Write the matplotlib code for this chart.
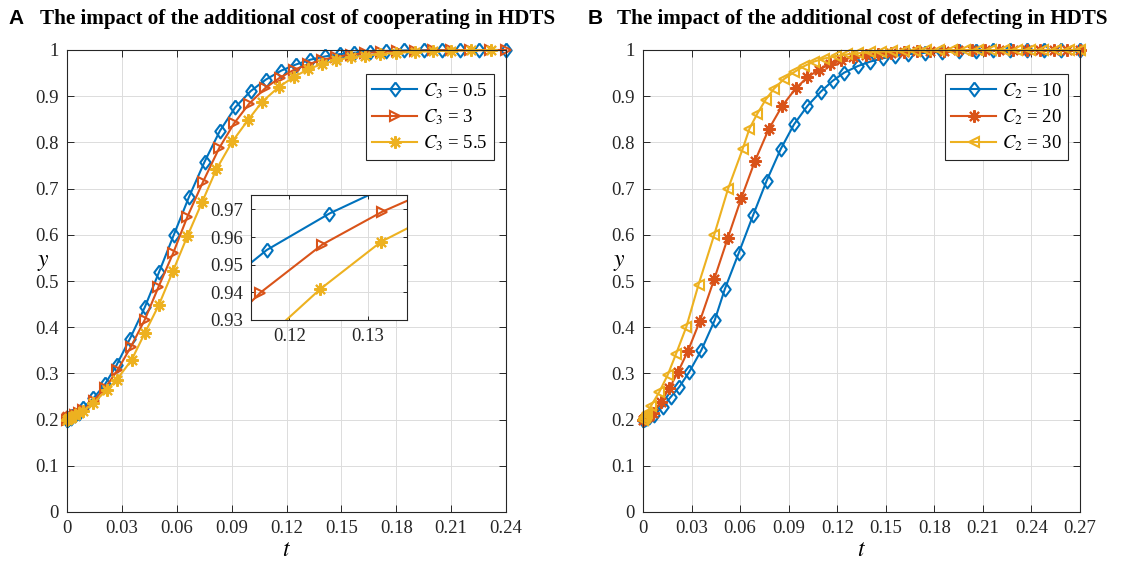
import matplotlib
matplotlib.use("Agg")
import matplotlib.pyplot as plt
import numpy as np

plt.rcParams['font.family'] = ['Liberation Serif', 'DejaVu Serif']
plt.rcParams['mathtext.fontset'] = 'stix'

BLUE = '#0072BD'
ORANGE = '#D95319'
YELLOW = '#EDB120'
INK = '#262626'

# ---- panel A: additional cost of cooperating (C3) ----
t_a1 = [0, 0.0004, 0.0008, 0.0013, 0.002, 0.003, 0.0045, 0.0065, 0.0089, 0.0144,
        0.0207, 0.0271, 0.0344, 0.0425, 0.0503, 0.0584, 0.0667, 0.0752, 0.0836, 0.092,
        0.1004, 0.1087, 0.1171, 0.1251, 0.133, 0.141, 0.149, 0.157, 0.1655, 0.1745,
        0.1845, 0.195, 0.205, 0.215, 0.2255, 0.24]
y_a1 = [0.2, 0.2009, 0.2018, 0.2029, 0.2045, 0.2068, 0.2103, 0.2152, 0.226, 0.246,
        0.276, 0.318, 0.375, 0.443, 0.519, 0.600, 0.682, 0.758, 0.825, 0.876,
        0.911, 0.936, 0.9553, 0.9685, 0.979, 0.986, 0.991, 0.994, 0.9965, 0.998,
        0.999, 0.9995, 0.9998, 0.9999, 1.0, 1.0]

t_a2 = [0, 0.0004, 0.0008, 0.0013, 0.002, 0.003, 0.0045, 0.0065, 0.009, 0.0145,
        0.0208, 0.0276, 0.035, 0.0425, 0.05, 0.058, 0.0658, 0.0744, 0.0831, 0.0913,
        0.0994, 0.1085, 0.1163, 0.1242, 0.1318, 0.1395, 0.147, 0.155, 0.163, 0.1715,
        0.1805, 0.19, 0.2, 0.21, 0.2205, 0.231, 0.24]
y_a2 = [0.2, 0.2008, 0.2016, 0.2027, 0.2042, 0.2063, 0.2096, 0.2142, 0.221, 0.241,
        0.268, 0.307, 0.358, 0.416, 0.487, 0.560, 0.639, 0.715, 0.787, 0.841,
        0.883, 0.918, 0.9399, 0.9573, 0.9691, 0.9787, 0.985, 0.990, 0.9935, 0.996,
        0.9975, 0.9985, 0.9992, 0.9996, 0.9998, 0.9999, 1.0]

t_a3 = [0, 0.0004, 0.0008, 0.0013, 0.002, 0.003, 0.0045, 0.0065, 0.0089, 0.0144,
        0.0216, 0.0271, 0.0353, 0.0425, 0.0502, 0.058, 0.0658, 0.074, 0.0817, 0.0904,
        0.0989, 0.1067, 0.116, 0.1239, 0.1317, 0.1395, 0.147, 0.155, 0.163, 0.171,
        0.18, 0.19, 0.2, 0.21, 0.221, 0.232]
y_a3 = [0.2, 0.2008, 0.2016, 0.2026, 0.204, 0.2061, 0.2092, 0.2135, 0.219, 0.235,
        0.264, 0.286, 0.329, 0.387, 0.448, 0.522, 0.597, 0.672, 0.742, 0.802,
        0.848, 0.888, 0.9207, 0.9411, 0.9583, 0.9696, 0.978, 0.984, 0.988, 0.991,
        0.994, 0.996, 0.9975, 0.9985, 0.9992, 0.9996]

# ---- panel B: additional cost of defecting (C2) ----
t_b1 = [0, 0.0004, 0.0009, 0.0015, 0.0025, 0.004, 0.007, 0.0122, 0.0174, 0.0225,
        0.0287, 0.036, 0.0443, 0.0505, 0.0592, 0.0681, 0.0764, 0.085, 0.0933, 0.1016,
        0.1099, 0.1171, 0.1243, 0.1326, 0.1405, 0.148, 0.156, 0.164, 0.1745, 0.185,
        0.1955, 0.206, 0.2165, 0.227, 0.2375, 0.248, 0.2585, 0.27]
y_b1 = [0.2, 0.2006, 0.2013, 0.2021, 0.2035, 0.2056, 0.21, 0.228, 0.25, 0.271,
        0.304, 0.350, 0.415, 0.482, 0.561, 0.643, 0.717, 0.785, 0.839, 0.879,
        0.910, 0.933, 0.951, 0.965, 0.975, 0.982, 0.987, 0.991, 0.994, 0.996,
        0.9973, 0.9983, 0.999, 0.9994, 0.9996, 0.9998, 0.9999, 1.0]

t_b2 = [0, 0.0004, 0.0009, 0.0015, 0.0025, 0.004, 0.006, 0.0112, 0.0163, 0.0215,
        0.0277, 0.0352, 0.044, 0.0523, 0.0608, 0.0692, 0.0776, 0.086, 0.0944, 0.1016,
        0.1085, 0.1155, 0.1225, 0.13, 0.1375, 0.145, 0.153, 0.161, 0.169, 0.1775,
        0.186, 0.1945, 0.203, 0.2115, 0.22, 0.2285, 0.237, 0.2455, 0.254, 0.262, 0.27]
y_b2 = [0.2, 0.2008, 0.2017, 0.2028, 0.2046, 0.2074, 0.214, 0.239, 0.268, 0.302,
        0.348, 0.414, 0.504, 0.592, 0.680, 0.760, 0.828, 0.879, 0.917, 0.941,
        0.957, 0.969, 0.978, 0.9845, 0.989, 0.992, 0.9945, 0.996, 0.997, 0.998,
        0.9987, 0.9991, 0.9994, 0.9996, 0.9997, 0.9998, 0.9999, 1.0, 1.0, 1.0, 1.0]

t_b3 = [0, 0.0005, 0.001, 0.0016, 0.0025, 0.005, 0.0101, 0.0153, 0.0205, 0.0267,
        0.0343, 0.044, 0.0526, 0.0615, 0.0658, 0.0706, 0.0757, 0.0809, 0.0871, 0.0933,
        0.0995, 0.1057, 0.112, 0.119, 0.126, 0.133, 0.14, 0.147, 0.154, 0.161,
        0.168, 0.175, 0.183, 0.191, 0.199, 0.207, 0.215, 0.223, 0.231, 0.239,
        0.247, 0.255, 0.263, 0.27]
y_b3 = [0.2, 0.2027, 0.2055, 0.209, 0.2143, 0.23, 0.26, 0.297, 0.343, 0.400,
        0.492, 0.600, 0.700, 0.785, 0.830, 0.862, 0.892, 0.916, 0.937, 0.952,
        0.965, 0.975, 0.9815, 0.987, 0.9905, 0.993, 0.995, 0.9965, 0.9975, 0.9982,
        0.9987, 0.9991, 0.9994, 0.9996, 0.9997, 0.9998, 0.9999, 1.0, 1.0, 1.0,
        1.0, 1.0, 1.0, 1.0]

labels_a = ['$C_3$ = 0.5', '$C_3$ = 3', '$C_3$ = 5.5']
labels_b = ['$C_2$ = 10', '$C_2$ = 20', '$C_2$ = 30']

xticks_a = [0, 0.03, 0.06, 0.09, 0.12, 0.15, 0.18, 0.21, 0.24]
xticks_b = [0, 0.03, 0.06, 0.09, 0.12, 0.15, 0.18, 0.21, 0.24, 0.27]
yticks = [0, 0.1, 0.2, 0.3, 0.4, 0.5, 0.6, 0.7, 0.8, 0.9, 1]

# MATLAB style open diamond
diamond = [(0, 1), (0.75, 0), (0, -1), (-0.75, 0), (0, 1)]
asterisk = (8, 2, 0)


def fmt(v):
    s = ('%.2f' % v).rstrip('0').rstrip('.')
    return s


def style_axes(ax, fs=13.5):
    ax.tick_params(direction='in', top=True, right=True, length=5, width=0.7,
                   colors=INK, labelsize=fs, pad=6)
    for sp in ax.spines.values():
        sp.set_color(INK)
        sp.set_linewidth(0.8)
    ax.grid(True, color='#dcdcdc', linewidth=0.7)
    ax.set_axisbelow(True)


def draw(ax, series, clip=False):
    lines = []
    for t, y, c, m, ms in series:
        ln, = ax.plot(t, y, color=c, lw=1.5, marker=m, ms=ms, mfc='none',
                      mec=c, mew=1.5, clip_on=clip)
        lines.append(ln)
    return lines


fig = plt.figure(figsize=(11.23, 5.68), dpi=100)

series_a = [(t_a1, y_a1, BLUE, diamond, 10),
            (t_a2, y_a2, ORANGE, '>', 7.5),
            (t_a3, y_a3, YELLOW, asterisk, 9)]
series_b = [(t_b1, y_b1, BLUE, diamond, 10),
            (t_b2, y_b2, ORANGE, asterisk, 9),
            (t_b3, y_b3, YELLOW, '<', 7.5)]

axA = fig.add_axes([67 / 1123, 56 / 568, 439 / 1123, 462 / 568])
axB = fig.add_axes([643 / 1123, 56 / 568, 437 / 1123, 462 / 568])

for ax, series, labels, xt, xmax in [(axA, series_a, labels_a, xticks_a, 0.24),
                                     (axB, series_b, labels_b, xticks_b, 0.27)]:
    style_axes(ax)
    lines = draw(ax, series)
    ax.set_xlim(0, xmax)
    ax.set_ylim(0, 1)
    ax.set_xticks(xt)
    ax.set_xticklabels([fmt(v) for v in xt])
    ax.set_yticks(yticks)
    ax.set_yticklabels([fmt(v) for v in yticks])
    ax.set_xlabel('$t$', fontsize=17, labelpad=2)
    ax.set_ylabel('$y$', fontsize=17, rotation=0, va='center')
    ax.yaxis.set_label_coords(-0.055, 0.54)
    leg = ax.legend(lines, labels, loc='upper right', bbox_to_anchor=(0.973, 0.947),
                    borderaxespad=0, fontsize=13.5, fancybox=False, framealpha=1,
                    edgecolor=INK, handlelength=2.4, handletextpad=0.3,
                    labelspacing=0.35, borderpad=0.35, numpoints=1)
    leg.get_frame().set_linewidth(0.8)

# zoomed view on panel A
axI = fig.add_axes([251 / 1123, 248 / 568, 156 / 1123, 125 / 568])
style_axes(axI)
axI.tick_params(top=True, right=True, length=3)
draw(axI, series_a, clip=True)
axI.set_xlim(0.1151, 0.135)
axI.set_ylim(0.93, 0.9752)
axI.set_xticks([0.12, 0.13])
axI.set_xticklabels(['0.12', '0.13'])
axI.set_yticks([0.93, 0.94, 0.95, 0.96, 0.97])
axI.set_yticklabels(['0.93', '0.94', '0.95', '0.96', '0.97'])

# panel headings
fig.text(8 / 1123, 1 - 19 / 568, 'A', fontfamily='Liberation Sans', fontweight='bold',
         fontsize=15, va='center')
fig.text(40 / 1123, 1 - 19 / 568, 'The impact of the additional cost of cooperating in HDTS',
         fontweight='bold', fontsize=15.2, va='center')
fig.text(588 / 1123, 1 - 19 / 568, 'B', fontfamily='Liberation Sans', fontweight='bold',
         fontsize=15, va='center')
fig.text(617 / 1123, 1 - 19 / 568, 'The impact of the additional cost of defecting in HDTS',
         fontweight='bold', fontsize=15.2, va='center')

fig.savefig('out.png', dpi=100)
